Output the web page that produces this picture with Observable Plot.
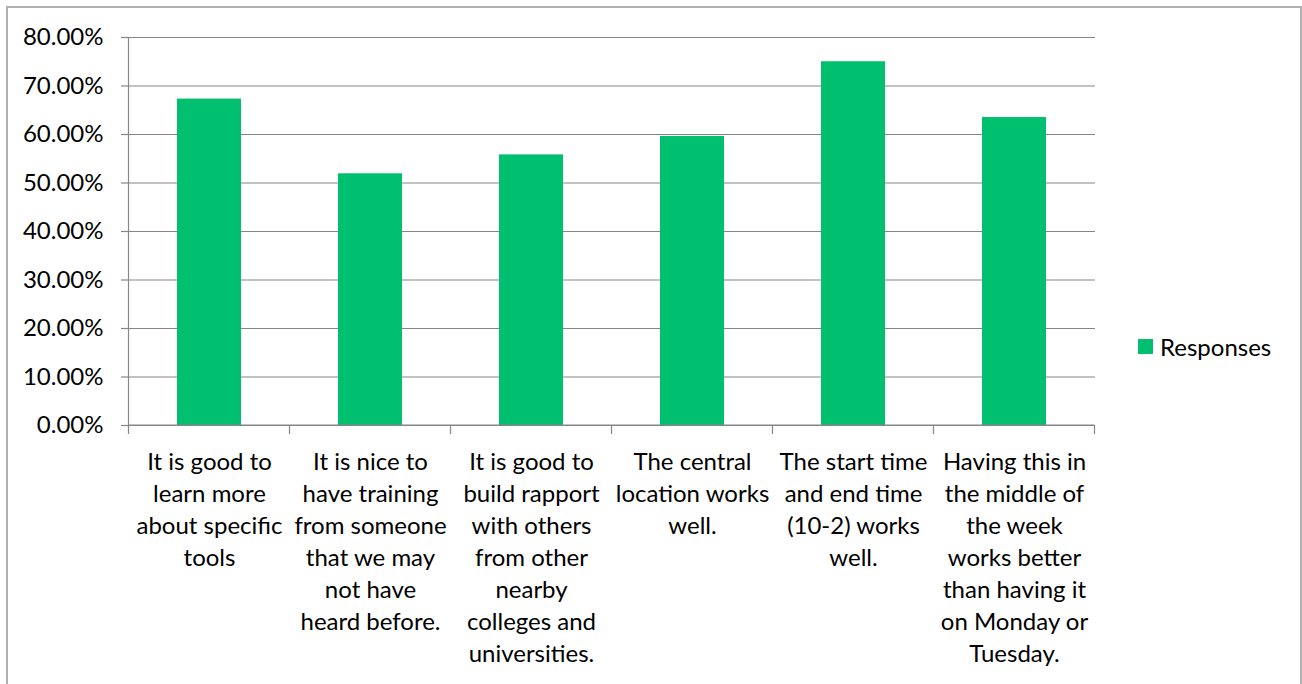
<!DOCTYPE html>
<html>
<head>
<meta charset="utf-8">
<script src="https://cdn.jsdelivr.net/npm/d3@7"></script>
<script src="https://cdn.jsdelivr.net/npm/@observablehq/plot@0.6"></script>
<style>
  html, body { margin: 0; padding: 0; background: #fff; }
  #wrap { position: relative; width: 1302px; height: 684px; overflow: hidden; }
  #frame { position: absolute; left: 6px; top: 6px; width: 1292px; height: 720px; border: 2px solid #b0b0b0; pointer-events: none; }
  #legend { position: absolute; left: 1138px; top: 332px; font-family: Lato, "Open Sans", sans-serif; font-size: 24px; color: #000; display: flex; align-items: center; }
  #legend .sw { width: 15px; height: 15px; background: #00bf6f; margin-right: 7px; }
</style>
</head>
<body>
<div id="wrap">
  <div id="chart"></div>
  <div id="frame"></div>
  <div id="legend"><div class="sw"></div><span>Responses</span></div>
</div>
<script>
const categories = [
  "It is good to\nlearn more\nabout specific\ntools",
  "It is nice to\nhave training\nfrom someone\nthat we may\nnot have\nheard before.",
  "It is good to\nbuild rapport\nwith others\nfrom other\nnearby\ncolleges and\nuniversities.",
  "The central\nlocation works\nwell.",
  "The start time\nand end time\n(10-2) works\nwell.",
  "Having this in\nthe middle of\nthe week\nworks better\nthan having it\non Monday or\nTuesday."
];
const responses = [0.673, 0.519, 0.558, 0.596, 0.750, 0.635];
const yTicks = [0, 0.1, 0.2, 0.3, 0.4, 0.5, 0.6, 0.7, 0.8];
const seriesName = "Responses";
const barColor = "#00bf6f";

const data = categories.map((c, i) => ({category: c, value: responses[i]}));

const plot = Plot.plot({
  width: 1302,
  height: 684,
  marginLeft: 129,
  marginRight: 207,
  marginTop: 37,
  marginBottom: 259,
  style: {fontFamily: "Lato, 'Open Sans', sans-serif", fontSize: "24px", color: "#000", background: "transparent"},
  x: {domain: categories, paddingInner: 0.6, paddingOuter: 0.3, axis: null},
  y: {domain: [0, 0.8], axis: null},
  marks: [
    Plot.gridY(yTicks, {stroke: "#868686", strokeOpacity: 1, strokeWidth: 1.2}),
    Plot.axisY(yTicks, {label: null, tickFormat: d => (d * 100).toFixed(2) + "%", tickSize: 8, tickPadding: 18, stroke: "#868686", strokeWidth: 1.2, fill: "#000", fontSize: 24}),
    Plot.barY(data, {x: "category", y: "value", fill: barColor}),
    Plot.text(data, {x: "category", y: () => 0, text: "category", lineAnchor: "top", dy: 22, lineHeight: 1.333, fontSize: 24, fill: "#000"})
  ]
});
document.getElementById("chart").appendChild(plot);

// x-axis boundary ticks and vertical axis line, through the plot's scales
const xs = plot.scale("x");
const ys = plot.scale("y");
const step = xs.step, bw = xs.bandwidth;
const bounds = categories.map(c => xs.apply(c) - (step - bw) / 2);
bounds.push(bounds[bounds.length - 1] + step);
const svg = d3.select(plot);
const g = svg.append("g").attr("stroke", "#868686").attr("stroke-width", 1.2);
const y0 = ys.apply(0), yTop = ys.apply(yTicks[yTicks.length - 1]);
bounds.forEach((b, i) => {
  g.append("line").attr("x1", b).attr("x2", b)
    .attr("y1", i === 0 ? yTop : y0).attr("y2", y0 + 9);
});
g.append("line").attr("x1", bounds[0]).attr("x2", bounds[bounds.length - 1]).attr("y1", y0).attr("y2", y0);
</script>
</body>
</html>
